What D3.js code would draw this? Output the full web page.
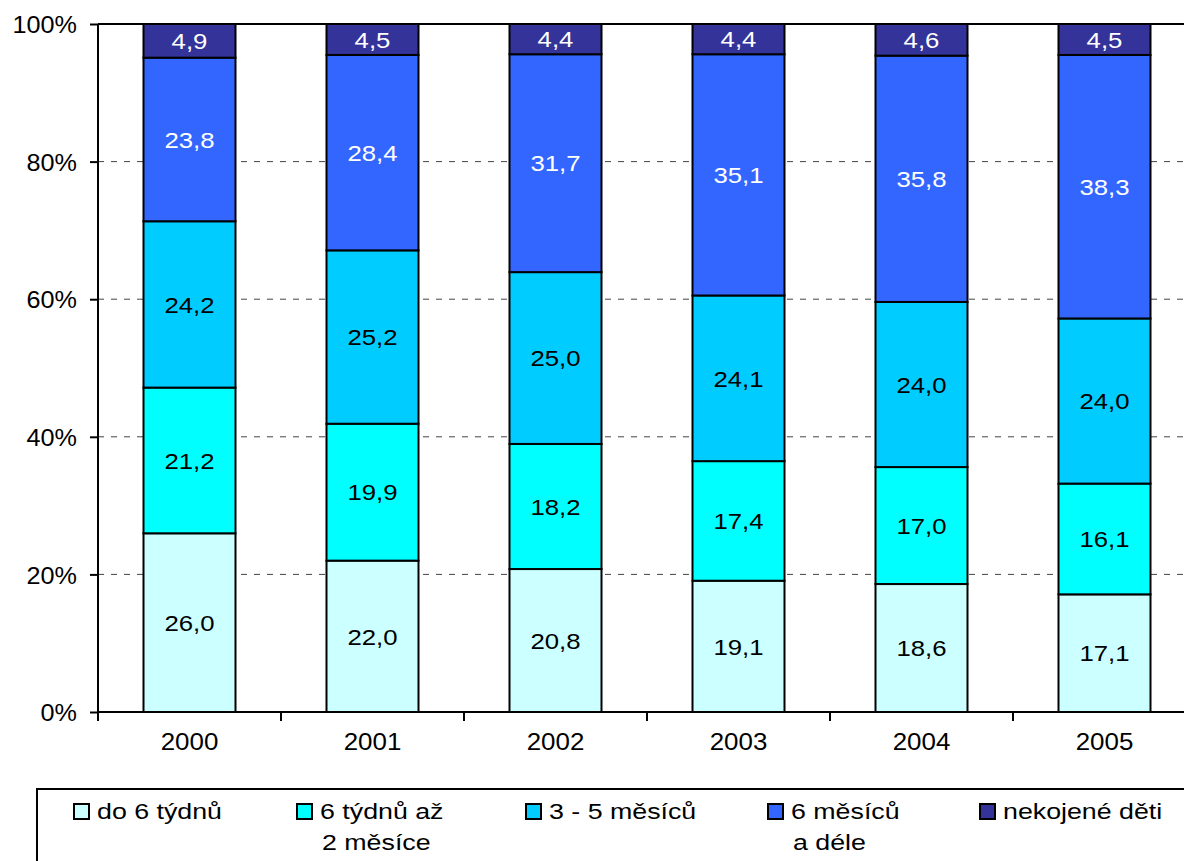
<!DOCTYPE html>
<html>
<head>
<meta charset="utf-8">
<script src="https://cdnjs.cloudflare.com/ajax/libs/d3/7.8.5/d3.min.js"></script>
<style>
html,body{margin:0;padding:0;background:#fff;}
svg{display:block;}
text{font-family:Arial,"Liberation Sans",sans-serif;}
</style>
</head>
<body>
<svg id="chart" width="1184" height="861"></svg>
<script>
const years = ["2000","2001","2002","2003","2004","2005"];
const seriesNames = ["do 6 týdnů","6 týdnů až 2 měsíce","3 - 5 měsíců","6 měsíců a déle","nekojené děti"];
const legendLines = [["do 6 týdnů"],["6 týdnů až","2 měsíce"],["3 - 5 měsíců"],["6 měsíců","a déle"],["nekojené děti"]];
const do6 =       [26.0, 22.0, 20.8, 19.1, 18.6, 17.1];
const tydnu6az2 = [21.2, 19.9, 18.2, 17.4, 17.0, 16.1];
const mes3az5 =   [24.2, 25.2, 25.0, 24.1, 24.0, 24.0];
const mes6 =      [23.8, 28.4, 31.7, 35.1, 35.8, 38.3];
const nekojene =  [4.9, 4.5, 4.4, 4.4, 4.6, 4.5];
const yTicks = [0, 20, 40, 60, 80, 100];
const colors = ["#CCFFFF","#00FFFF","#00CCFF","#3366FF","#333399"];
const textColors = ["#000","#000","#000","#fff","#fff"];

const series = [do6, tydnu6az2, mes3az5, mes6, nekojene];
const svg = d3.select("#chart");

const pLeft = 98, pTop = 24, pBottom = 712, step = 183;
const x = d3.scaleBand().domain(years).range([pLeft, pLeft + step*years.length])
  .paddingInner(1 - 92/183).paddingOuter((1 - 92/183)/2);
const y = d3.scaleLinear().domain([0,100]).range([pBottom, pTop]);

// gridlines
const g = svg.append("g");
g.selectAll("line.grid").data(yTicks.filter(t => t > 0 && t < 100)).join("line")
  .attr("x1", pLeft).attr("x2", 1184).attr("y1", d => y(d)).attr("y2", d => y(d))
  .attr("stroke", "#444").attr("stroke-width", 1).attr("stroke-dasharray", "6,7");
// top border
g.append("line").attr("x1", pLeft).attr("x2", 1184).attr("y1", y(100)).attr("y2", y(100))
  .attr("stroke", "#000").attr("stroke-width", 2);

// stacked data (normalized to 100%)
const rows = years.map((yr, i) => {
  const o = {year: yr};
  seriesNames.forEach((s, k) => o[s] = series[k][i]);
  return o;
});
const stack = d3.stack().keys(seriesNames).offset(d3.stackOffsetExpand);
const stacked = stack(rows);

stacked.forEach((layer, k) => {
  const lg = svg.append("g");
  lg.selectAll("rect").data(layer).join("rect")
    .attr("x", d => x(d.data.year))
    .attr("width", x.bandwidth())
    .attr("y", d => y(d[1]*100))
    .attr("height", d => y(d[0]*100) - y(d[1]*100))
    .attr("fill", colors[k]).attr("stroke", "#000").attr("stroke-width", 2);
  lg.selectAll("text").data(layer).join("text")
    .attr("transform", d => `translate(${x(d.data.year) + x.bandwidth()/2},${(y(d[0]*100) + y(d[1]*100))/2}) scale(1.12,1)`)
    .attr("dy", "0.36em")
    .attr("text-anchor", "middle")
    .attr("font-size", "23px")
    .attr("fill", textColors[k])
    .text(d => d3.format(".1f")(d.data[seriesNames[k]]).replace(".", ","));
});

// y axis
const yAxis = d3.axisLeft(y).tickValues(yTicks).tickSize(8).tickFormat(d => d + "%");
const ya = svg.append("g").attr("transform", `translate(${pLeft},0)`).call(yAxis);
ya.select(".domain").attr("stroke", "#000").attr("stroke-width", 2).attr("d", `M0,${pTop}V${pBottom}`);
ya.selectAll(".tick line").attr("stroke", "#000").attr("stroke-width", 2);
ya.selectAll(".tick text").attr("font-size", "24px").attr("fill", "#000").attr("x", 0)
  .attr("transform", "translate(-21,0) scale(1.05,1)").attr("dy", "0.36em")
  .attr("font-family", 'Arial,"Liberation Sans",sans-serif');

// x axis
const xa = svg.append("g").attr("transform", `translate(0,${pBottom})`);
xa.append("line").attr("x1", pLeft).attr("x2", 1184).attr("y1", 0).attr("y2", 0)
  .attr("stroke", "#000").attr("stroke-width", 2);
xa.selectAll("line.tk").data(years.map((yr, i) => pLeft + i*x.step())).join("line")
  .attr("x1", d => d).attr("x2", d => d).attr("y1", 0).attr("y2", 9)
  .attr("stroke", "#000").attr("stroke-width", 2);
xa.selectAll("text").data(years).join("text")
  .attr("transform", d => `translate(${x(d) + x.bandwidth()/2},38) scale(1.08,1)`)
  .attr("text-anchor", "middle").attr("font-size", "24px")
  .text(d => d);

// legend
const leg = svg.append("g");
leg.append("rect").attr("x", 37).attr("y", 789).attr("width", 1200).attr("height", 100)
  .attr("fill", "#fff").attr("stroke", "#000").attr("stroke-width", 2);
const legX = [74, 297, 526, 768, 980];
legendLines.forEach((lines, k) => {
  leg.append("rect").attr("x", legX[k]).attr("y", 804).attr("width", 15).attr("height", 15)
    .attr("fill", colors[k]).attr("stroke", "#000").attr("stroke-width", 2);
  lines.forEach((ln, j) => {
    leg.append("text")
      .attr("transform", `translate(${legX[k] + 23 + (j > 0 ? 2 : 0)},${819 + j*31}) scale(1.19,1)`)
      .attr("font-size", "22.5px").text(ln);
  });
});
</script>
</body>
</html>
